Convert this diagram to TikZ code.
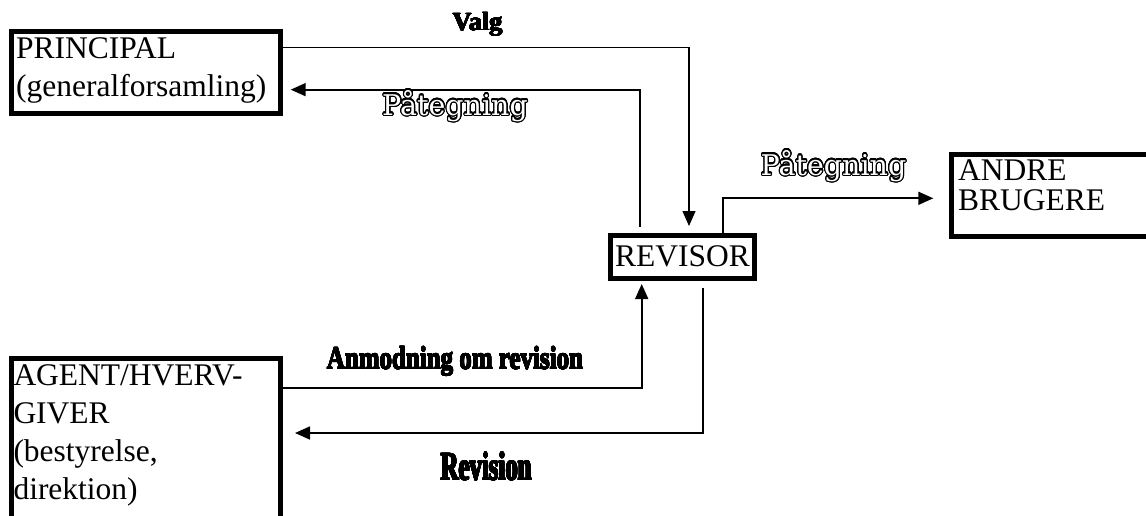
\documentclass[tikz,border=0pt]{standalone}
\usepackage{fontspec}
\setmainfont{Liberation Serif}
\newfontfamily\outlinefont{DejaVu Serif}
\usepackage{graphicx}
\usepackage{contour}
\usetikzlibrary{arrows.meta}
\contourlength{1.2pt}
\contournumber{24}
\newcommand{\heavy}[1]{{\contourlength{0.45pt}\contour{black}{#1}}}
\tikzset{
  box/.style={draw, line width=5pt, inner sep=0pt},
  boxtext/.style={anchor=base west, inner sep=0pt, align=left, font=\fontsize{31.5}{38}\selectfont},
  conn/.style={line width=1.7pt, -{Triangle[length=15pt,width=13pt]}},
  lbl/.style={anchor=base, inner sep=0pt},
  outlbl/.style={anchor=base, inner sep=0pt, text=white, font=\outlinefont\fontsize{28.5}{30}\selectfont},
}
\begin{document}
\begin{tikzpicture}[x=1pt,y=-1pt]
\useasboundingbox (0,0) rectangle (1146,515);
\clip (0,0) rectangle (1146,515);
% boxes
\node[box, minimum width=268.7pt, minimum height=81.7pt] (principal) at (145.85,72.65) {};
\node[box, minimum width=144pt, minimum height=43pt] (revisor) at (682.5,256.7) {};
\node[box, minimum width=260pt, minimum height=82pt] (andre) at (1081.5,195.5) {};
\node[box, minimum width=268.7pt, minimum height=200pt] (agent) at (145.85,458.5) {};
% box texts (anchor at baseline of the last line)
\node[boxtext] (principaltxt) at (16,96.5) {PRINCIPAL\\(generalforsamling)};
\node[boxtext] (revisortxt) at (615,266) {REVISOR};
\node[boxtext, font=\fontsize{31.5}{30}\selectfont] (andretxt) at (958,210.7) {ANDRE\\BRUGERE};
\node[boxtext] (agenttxt) at (13.3,499) {AGENT/HVERV-\\GIVER\\(bestyrelse,\\direktion)};
% connectors
\draw[conn, line width=1.3pt, shorten >=6.7pt] ([yshift=24.9pt]principal.east) -| ([xshift=6.5pt]revisor.north);
\draw[conn, shorten <=6pt, shorten >=8pt] ([xshift=-42.5pt]revisor.north) |- ([yshift=-17pt]principal.east);
\draw[conn, shorten >=15.7pt] ([xshift=40.8pt]revisor.north) |- ([yshift=-2.8pt]andre.west);
\draw[conn, shorten >=3.3pt] ([yshift=70.8pt]agent.east) -| ([xshift=-40.8pt]revisor.south);
\draw[conn, shorten <=7pt, shorten >=12.3pt] ([xshift=20.2pt]revisor.south) |- ([yshift=25.5pt]agent.east);
% labels
\node[lbl, font=\bfseries\fontsize{26}{30}\selectfont] (valg) at (477.5,30.5) {\heavy{Valg}};
\node[outlbl] (pat1) at (455,115) {\contour{black}{Påtegning}};
\node[outlbl] (pat2) at (833.5,175) {\contour{black}{Påtegning}};
\node[lbl, font=\bfseries\fontsize{32}{36}\selectfont] (anmod) at (455,369) {\scalebox{0.78}[1]{\heavy{Anmodning om revision}}};
\node[lbl, font=\bfseries\fontsize{40}{44}\selectfont] (rev) at (486.5,480) {\scalebox{0.62}[1]{\heavy{Revision}}};
\end{tikzpicture}
\end{document}
